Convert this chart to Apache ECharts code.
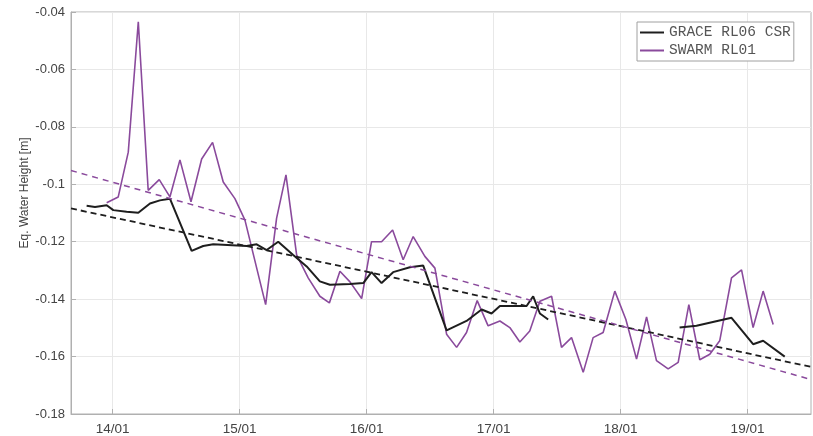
<!DOCTYPE html>
<html>
<head>
<meta charset="utf-8">
<script src="https://cdn.jsdelivr.net/npm/echarts@6/dist/echarts.min.js"></script>
<style>html,body{margin:0;padding:0;background:#fff}#c{width:813px;height:436px}</style>
</head>
<body>
<div id="c"></div>
<script>
// X positions are decimal years
const xMin = 2013.672, xMax = 2019.5;
const xTickValues = [2014, 2015, 2016, 2017, 2018, 2019];
const xTickLabels = ['14/01', '15/01', '16/01', '17/01', '18/01', '19/01'];

const graceYears = [2013.795, 2013.861, 2013.953, 2014.005, 2014.110, 2014.202, 2014.294, 2014.372, 2014.451,
  2014.622, 2014.713, 2014.792, 2015.055, 2015.134, 2015.213, 2015.304, 2015.422, 2015.528, 2015.632,
  2015.711, 2015.869, 2015.974, 2016.039, 2016.118, 2016.209, 2016.341, 2016.446, 2016.630, 2016.787,
  2016.906, 2016.984, 2017.050, 2017.260, 2017.312, 2017.365, 2017.430,
  2017.950,
  2018.465, 2018.598, 2018.874, 2019.044, 2019.123, 2019.293];
const graceValues = [-0.1075, -0.1079, -0.1073, -0.1090, -0.1096, -0.1099, -0.1067, -0.1056, -0.1050,
  -0.1232, -0.1215, -0.1209, -0.1215, -0.1209, -0.1229, -0.1200, -0.1246, -0.1286, -0.1338,
  -0.1350, -0.1347, -0.1344, -0.1306, -0.1344, -0.1306, -0.1289, -0.1283, -0.1509, -0.1476,
  -0.1436, -0.1450, -0.1424, -0.1424, -0.1390, -0.1450, -0.1471,
  null,
  -0.1499, -0.1493, -0.1465, -0.1557, -0.1545, -0.1600];

const swarmYears = [2013.953, 2014.044, 2014.123, 2014.202, 2014.280, 2014.367, 2014.451, 2014.530, 2014.617,
  2014.701, 2014.787, 2014.871, 2014.963, 2015.042, 2015.205, 2015.291, 2015.365, 2015.449, 2015.540,
  2015.632, 2015.707, 2015.790, 2015.869, 2015.961, 2016.039, 2016.118, 2016.205, 2016.288, 2016.367,
  2016.459, 2016.538, 2016.630, 2016.709, 2016.787, 2016.871, 2016.957, 2017.050, 2017.128, 2017.207,
  2017.285, 2017.365, 2017.457, 2017.535, 2017.614, 2017.706, 2017.784, 2017.863, 2017.955, 2018.042,
  2018.126, 2018.205, 2018.283, 2018.375, 2018.454, 2018.538, 2018.624, 2018.703, 2018.781, 2018.874,
  2018.953, 2019.044, 2019.123, 2019.202];
const swarmValues = [-0.1064, -0.1044, -0.0888, -0.0434, -0.1021, -0.0984, -0.1044, -0.0915, -0.1061,
  -0.0912, -0.0854, -0.0992, -0.1050, -0.1125, -0.1419, -0.1119, -0.0967, -0.1246, -0.1326,
  -0.1390, -0.1413, -0.1303, -0.1340, -0.1398, -0.1200, -0.1200, -0.1159, -0.1263, -0.1182,
  -0.1251, -0.1292, -0.1522, -0.1568, -0.1516, -0.1405, -0.1493, -0.1476, -0.1499, -0.1549,
  -0.1511, -0.1407, -0.1390, -0.1568, -0.1534, -0.1655, -0.1534, -0.1516, -0.1372, -0.1471,
  -0.1609, -0.1462, -0.1614, -0.1643, -0.1620, -0.1419, -0.1611, -0.1592, -0.1545, -0.1326,
  -0.1298, -0.1499, -0.1372, -0.1488];

// Linear trend lines, endpoints at the axis limits
const trendYears = [xMin, xMax];
const graceTrend = [-0.1084, -0.1636];
const swarmTrend = [-0.0952, -0.1680];

const zip = (xs, ys) => xs.map((x, i) => [x, ys[i]]);

const gridColor = '#e8e8e8';
const axisColor = '#b0b0b0';
const labelColor = '#444';
const purple = '#8a4a9c';

const chart = echarts.init(document.getElementById('c'));
chart.setOption({
  animation: false,
  backgroundColor: '#fff',
  grid: { left: 71, right: 2, top: 12, bottom: 19, show: true, borderColor: axisColor, borderWidth: 1 },
  legend: {
    left: 637, top: 22,
    orient: 'vertical',
    data: ['GRACE RL06 CSR', 'SWARM RL01'],
    icon: 'rect',
    itemWidth: 24, itemHeight: 2, itemGap: 3,
    padding: [3, 3, 3, 3],
    backgroundColor: '#fff', borderColor: '#a0a0a0', borderWidth: 1,
    textStyle: { fontFamily: 'Liberation Mono', fontSize: 14.5, lineHeight: 14, color: '#555' }
  },
  xAxis: [{
    type: 'value', min: xMin, max: xMax,
    axisLine: { show: true, lineStyle: { color: axisColor } },
    axisTick: { show: true, inside: true, length: 5, customValues: xTickValues, lineStyle: { color: axisColor } },
    axisLabel: {
      customValues: xTickValues,
      formatter: v => xTickLabels[xTickValues.indexOf(Math.round(v))],
      fontFamily: 'Liberation Sans', fontSize: 13.5, color: labelColor, margin: 8
    },
    splitLine: { show: true, lineStyle: { color: gridColor } }
  }],
  yAxis: [{
    type: 'value', min: -0.18, max: -0.04, interval: 0.02,
    name: 'Eq. Water Height [m]', nameLocation: 'middle', nameGap: 40, nameMoveOverlap: false,
    nameTextStyle: { fontFamily: 'Liberation Sans', fontSize: 12, color: labelColor, padding: [0, 0, 0, 40] },
    axisLine: { show: true, lineStyle: { color: axisColor } },
    axisTick: { show: true, inside: true, length: 5, lineStyle: { color: axisColor } },
    axisLabel: { fontFamily: 'Liberation Sans', fontSize: 13, color: labelColor, margin: 6 },
    splitLine: { show: true, lineStyle: { color: gridColor } }
  }],
  series: [
    {
      name: 'GRACE RL06 CSR', type: 'line', data: zip(graceYears, graceValues),
      symbol: 'none', connectNulls: false, z: 3,
      lineStyle: { color: '#1e1e1e', width: 2 }, itemStyle: { color: '#1e1e1e' }
    },
    {
      name: 'SWARM RL01', type: 'line', data: zip(swarmYears, swarmValues),
      symbol: 'none', z: 2,
      lineStyle: { color: purple, width: 1.6 }, itemStyle: { color: purple }
    },
    {
      name: 'GRACE trend', type: 'line', data: zip(trendYears, graceTrend),
      symbol: 'none', z: 4, silent: true,
      lineStyle: { color: '#1e1e1e', width: 1.8, type: [6, 4] }
    },
    {
      name: 'SWARM trend', type: 'line', data: zip(trendYears, swarmTrend),
      symbol: 'none', z: 4, silent: true,
      lineStyle: { color: purple, width: 1.5, type: [6, 5] }
    }
  ]
});
</script>
</body>
</html>
